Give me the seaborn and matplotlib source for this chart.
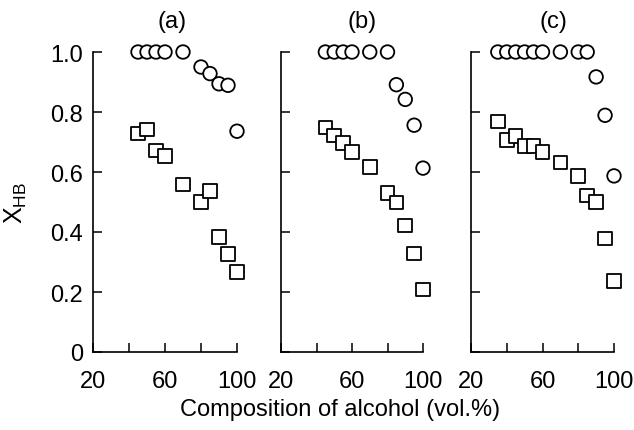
import numpy as np
import pandas as pd
import matplotlib
matplotlib.use("Agg")
import matplotlib.pyplot as plt
import seaborn as sns

# ---- data ----
comp_ab = [45, 50, 55, 60, 70, 80, 85, 90, 95, 100]
comp_c = [35, 40, 45, 50, 55, 60, 70, 80, 85, 90, 95, 100]

a_circle = [1.0, 1.0, 1.0, 1.0, 1.0, 0.950, 0.928, 0.894, 0.889, 0.736]
a_square = [0.728, 0.741, 0.672, 0.653, 0.559, 0.500, 0.536, 0.383, 0.326, 0.267]

b_circle = [1.0, 1.0, 1.0, 1.0, 1.0, 1.0, 0.891, 0.842, 0.756, 0.613]
b_square = [0.748, 0.722, 0.697, 0.667, 0.617, 0.530, 0.498, 0.422, 0.328, 0.208]

c_circle = [1.0, 1.0, 1.0, 1.0, 1.0, 1.0, 1.0, 1.0, 1.0, 0.917, 0.789, 0.587]
c_square = [0.769, 0.706, 0.720, 0.686, 0.686, 0.667, 0.631, 0.587, 0.522, 0.500, 0.378, 0.237]

panel_titles = ["(a)", "(b)", "(c)"]
x_ticks = [20, 40, 60, 80, 100]
x_ticklabels = ["20", "", "60", "", "100"]
y_ticks = [0, 0.2, 0.4, 0.6, 0.8, 1.0]
y_ticklabels = ["0", "0.2", "0.4", "0.6", "0.8", "1.0"]

panels = [
    (comp_ab, a_circle, a_square),
    (comp_ab, b_circle, b_square),
    (comp_c, c_circle, c_square),
]

sns.set_style("ticks")
plt.rcParams["font.family"] = ["Liberation Sans", "DejaVu Sans"]
plt.rcParams["mathtext.fontset"] = "custom"
plt.rcParams["mathtext.rm"] = "Liberation Sans"
plt.rcParams["mathtext.it"] = "Liberation Sans"
plt.rcParams["text.color"] = "black"

fig = plt.figure(figsize=(6.34, 4.31), dpi=100)
lefts = [93, 281, 471]
widths = [144, 142, 143]
W, H = 634, 431
top_px, bot_px = 53, 353
title_x = [0.55, 0.574, 0.573]

fs = 17
for i, (comp, circ, sq) in enumerate(panels):
    ax = fig.add_axes([lefts[i] / W, (H - bot_px) / H, widths[i] / W, (bot_px - top_px) / H])
    df = pd.DataFrame({
        "comp": list(comp) + list(comp),
        "xhb": list(circ) + list(sq),
        "kind": ["circle"] * len(comp) + ["square"] * len(comp),
    })
    sns.scatterplot(data=df, x="comp", y="xhb", style="kind",
                    markers={"circle": "o", "square": "s"},
                    color="white", edgecolor="black", linewidth=1.3,
                    s=95, legend=False, clip_on=False, zorder=3, ax=ax)
    ax.set_xlim(20, 100)
    ax.set_ylim(0, 1.0)
    ax.set_xticks(x_ticks)
    ax.set_xticklabels(x_ticklabels, fontsize=fs)
    ax.set_yticks(y_ticks)
    if i == 0:
        ax.set_yticklabels(y_ticklabels, fontsize=fs)
    else:
        ax.set_yticklabels([])
    ax.tick_params(direction="in", length=6.5, width=1.1, color="black",
                   labelcolor="black")
    ax.tick_params(axis="x", pad=13)
    ax.tick_params(axis="y", pad=7)
    ax.set_xlabel("")
    ax.set_ylabel("")
    sns.despine(ax=ax)
    for sp in ("left", "bottom"):
        ax.spines[sp].set_linewidth(1.2)
        ax.spines[sp].set_color("black")
    ax.text(title_x[i], 1.0 + 31 / 300, panel_titles[i], transform=ax.transAxes,
            ha="center", va="center", fontsize=fs)

fig.text(340 / W, (H - 410) / H, "Composition of alcohol (vol.%)",
         ha="center", va="center", fontsize=fs)
fig.text(16 / W, (H - 203) / H, r"$\mathrm{X_{HB}}$", rotation=90,
         ha="center", va="center", fontsize=fs + 1)

fig.savefig("out.png", dpi=100)
